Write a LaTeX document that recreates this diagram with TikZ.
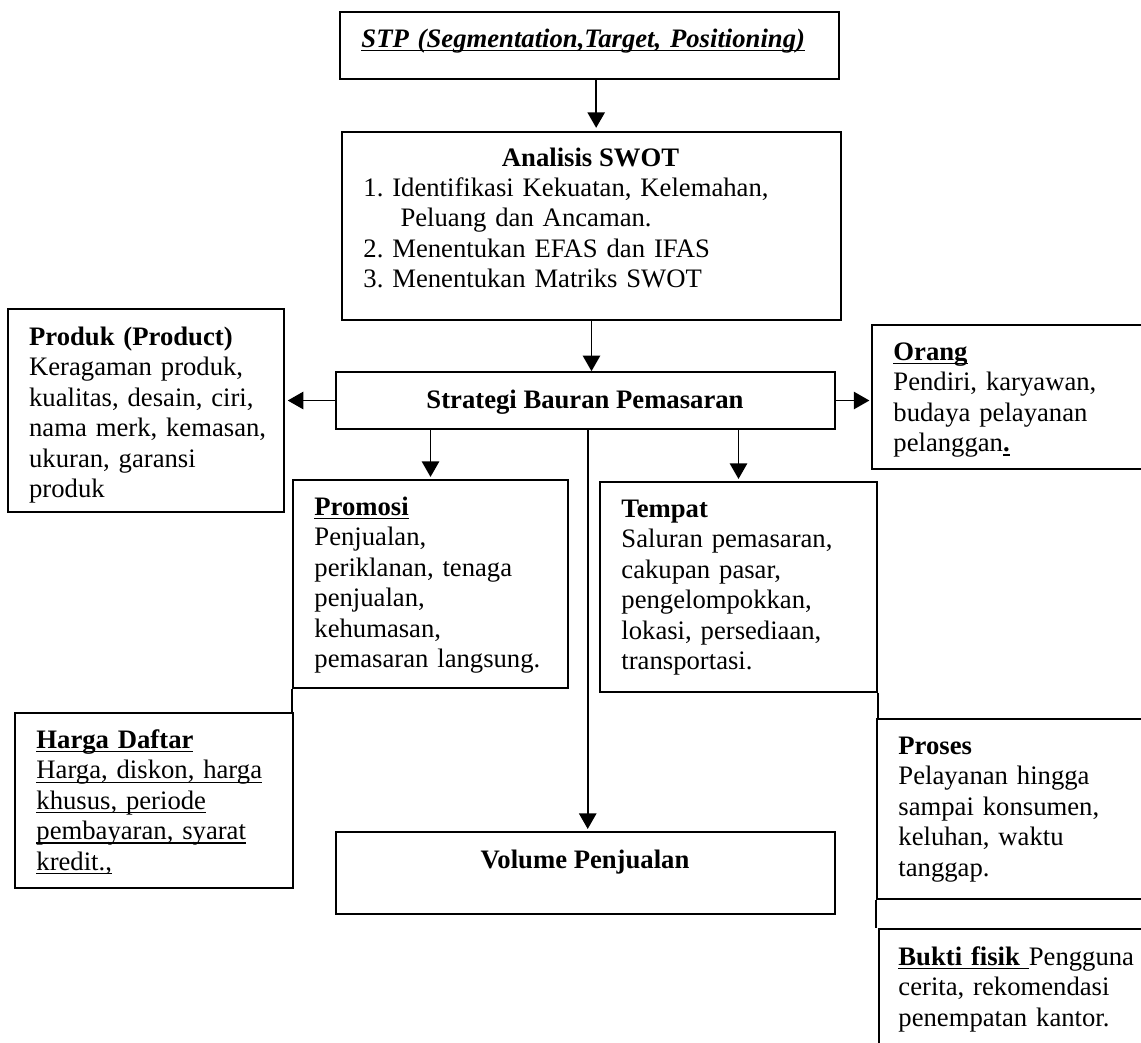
\documentclass[tikz,border=0pt]{standalone}
\usepackage{fontspec}
\setmainfont{Liberation Serif}
\usetikzlibrary{arrows.meta,fit}
\frenchspacing

% underline at a fixed depth
\newsavebox{\ulinebox}
\newcommand{\undl}[1]{\leavevmode\sbox{\ulinebox}{#1}%
  \rlap{\rule[-1.7pt]{\wd\ulinebox}{0.5pt}}\usebox{\ulinebox}}

\tikzset{
  box/.style={draw, line width=0.75pt, inner sep=0pt},
  txt/.style={anchor=north west, inner sep=0pt, align=left, text width=7cm,
    font=\fontsize{12}{13.7}\selectfont},
  ttl/.style={anchor=base, inner sep=0pt, font=\fontsize{12}{13.7}\selectfont\bfseries},
  arr/.style={line width=0.75pt, -{Triangle[length=7pt,width=7.8pt]}},
  edge/.style={line width=0.75pt}
}

\begin{document}
\begin{tikzpicture}[x=0.45pt, y=-0.45pt]
\useasboundingbox[fill=white] (0,0) rectangle (1141,1042);
\clip (0,0) rectangle (1141,1042);

% Boxes
\node[box, fit={(340,12) (839,79)}] (stp) {};
\node[box, fit={(342,132) (841,320)}] (swot) {};
\node[box, fit={(336,372) (835,429)}] (bauran) {};
\node[box, fit={(8,309) (284,512)}] (produk) {};
\node[box, fit={(872,325) (1150,469)}] (orang) {};
\node[box, fit={(293,480) (568,688)}] (promosi) {};
\node[box, fit={(600,482) (877,692)}] (tempat) {};
\node[box, fit={(15,713) (293,888)}] (harga) {};
\node[box, fit={(336,832) (835,914)}] (volume) {};
\node[box, fit={(877,719) (1150,899)}] (proses) {};
\node[box, fit={(879,929) (1150,1060)}] (bukti) {};

% Texts
\node[txt] (stpText) at (361,25.7) {\strut\undl{\textbf{\textit{STP (Segmentation,Target, Positioning)}}}};
\node[ttl] (swotTitle) at (590.5,166) {Analisis SWOT};
\node[txt] (swotList) at (363,174.7) {\strut 1. Identifikasi Kekuatan, Kelemahan,\\
  \hspace*{16.7pt}Peluang dan Ancaman.\\
  2. Menentukan EFAS dan IFAS\\
  3. Menentukan Matriks SWOT};
\node[ttl] (bauranText) at (585,408) {Strategi Bauran Pemasaran};
\node[txt] (produkText) at (28.7,323.7) {\strut\textbf{Produk (Product)}\\
  Keragaman produk,\\
  kualitas, desain, ciri,\\
  nama merk, kemasan,\\
  ukuran, garansi\\
  produk};
\node[txt] (orangText) at (893,338.7) {\strut\undl{\textbf{Orang}}\\
  Pendiri, karyawan,\\
  budaya pelayanan\\
  pelanggan\undl{\textbf{.}}};
\node[txt] (promosiText) at (314,493.7) {\strut\undl{\textbf{Promosi}}\\
  Penjualan,\\
  periklanan, tenaga\\
  penjualan,\\
  kehumasan,\\
  pemasaran langsung.};
\node[txt] (tempatText) at (621,495.7) {\strut\textbf{Tempat}\\
  Saluran pemasaran,\\
  cakupan pasar,\\
  pengelompokkan,\\
  lokasi, persediaan,\\
  transportasi.};
\node[txt] (hargaText) at (36,726.7) {\strut\undl{\textbf{Harga Daftar}}\\
  \undl{Harga, diskon, harga}\\
  \undl{khusus, periode}\\
  \undl{pembayaran, syarat}\\
  \undl{kredit.,}};
\node[ttl] (volumeText) at (585,868) {Volume Penjualan};
\node[txt] (prosesText) at (898,732.7) {\strut\textbf{Proses}\\
  Pelayanan hingga\\
  sampai konsumen,\\
  keluhan, waktu\\
  tanggap.};
\node[txt] (buktiText) at (898,943.7) {\strut\undl{\textbf{Bukti fisik\ }}Pengguna\\
  cerita, rekomendasi\\
  penempatan kantor.};

% Arrows
\coordinate (stpOut) at ([xshift=3pt]stp.south);
\draw[arr, shorten >=1.5pt] (stpOut) -- (stpOut |- swot.north);
\draw[arr] (swot.south) -- (swot.south |- bauran.north);
\draw[arr, shorten >=1.3pt] (bauran.west) -- (bauran.west -| produk.east);
\draw[arr, shorten >=0.8pt] (bauran.east) -- (bauran.east -| orang.west);
\draw[arr, shorten >=1pt] (bauran.south -| promosi.north) -- (promosi.north);
\draw[arr, shorten >=1pt] (bauran.south -| tempat.north) -- (tempat.north);
\draw[arr, shorten >=1pt] ([xshift=1pt]bauran.south) -- ([xshift=1pt]bauran.south |- volume.north);

% Joining edges
\draw[edge] (promosi.south west) -- (promosi.south west |- harga.north);
\draw[edge] (tempat.south east) -- (tempat.south east |- proses.north);
\draw[edge] (proses.south west) -- (proses.south west |- bukti.north);

\end{tikzpicture}
\end{document}
